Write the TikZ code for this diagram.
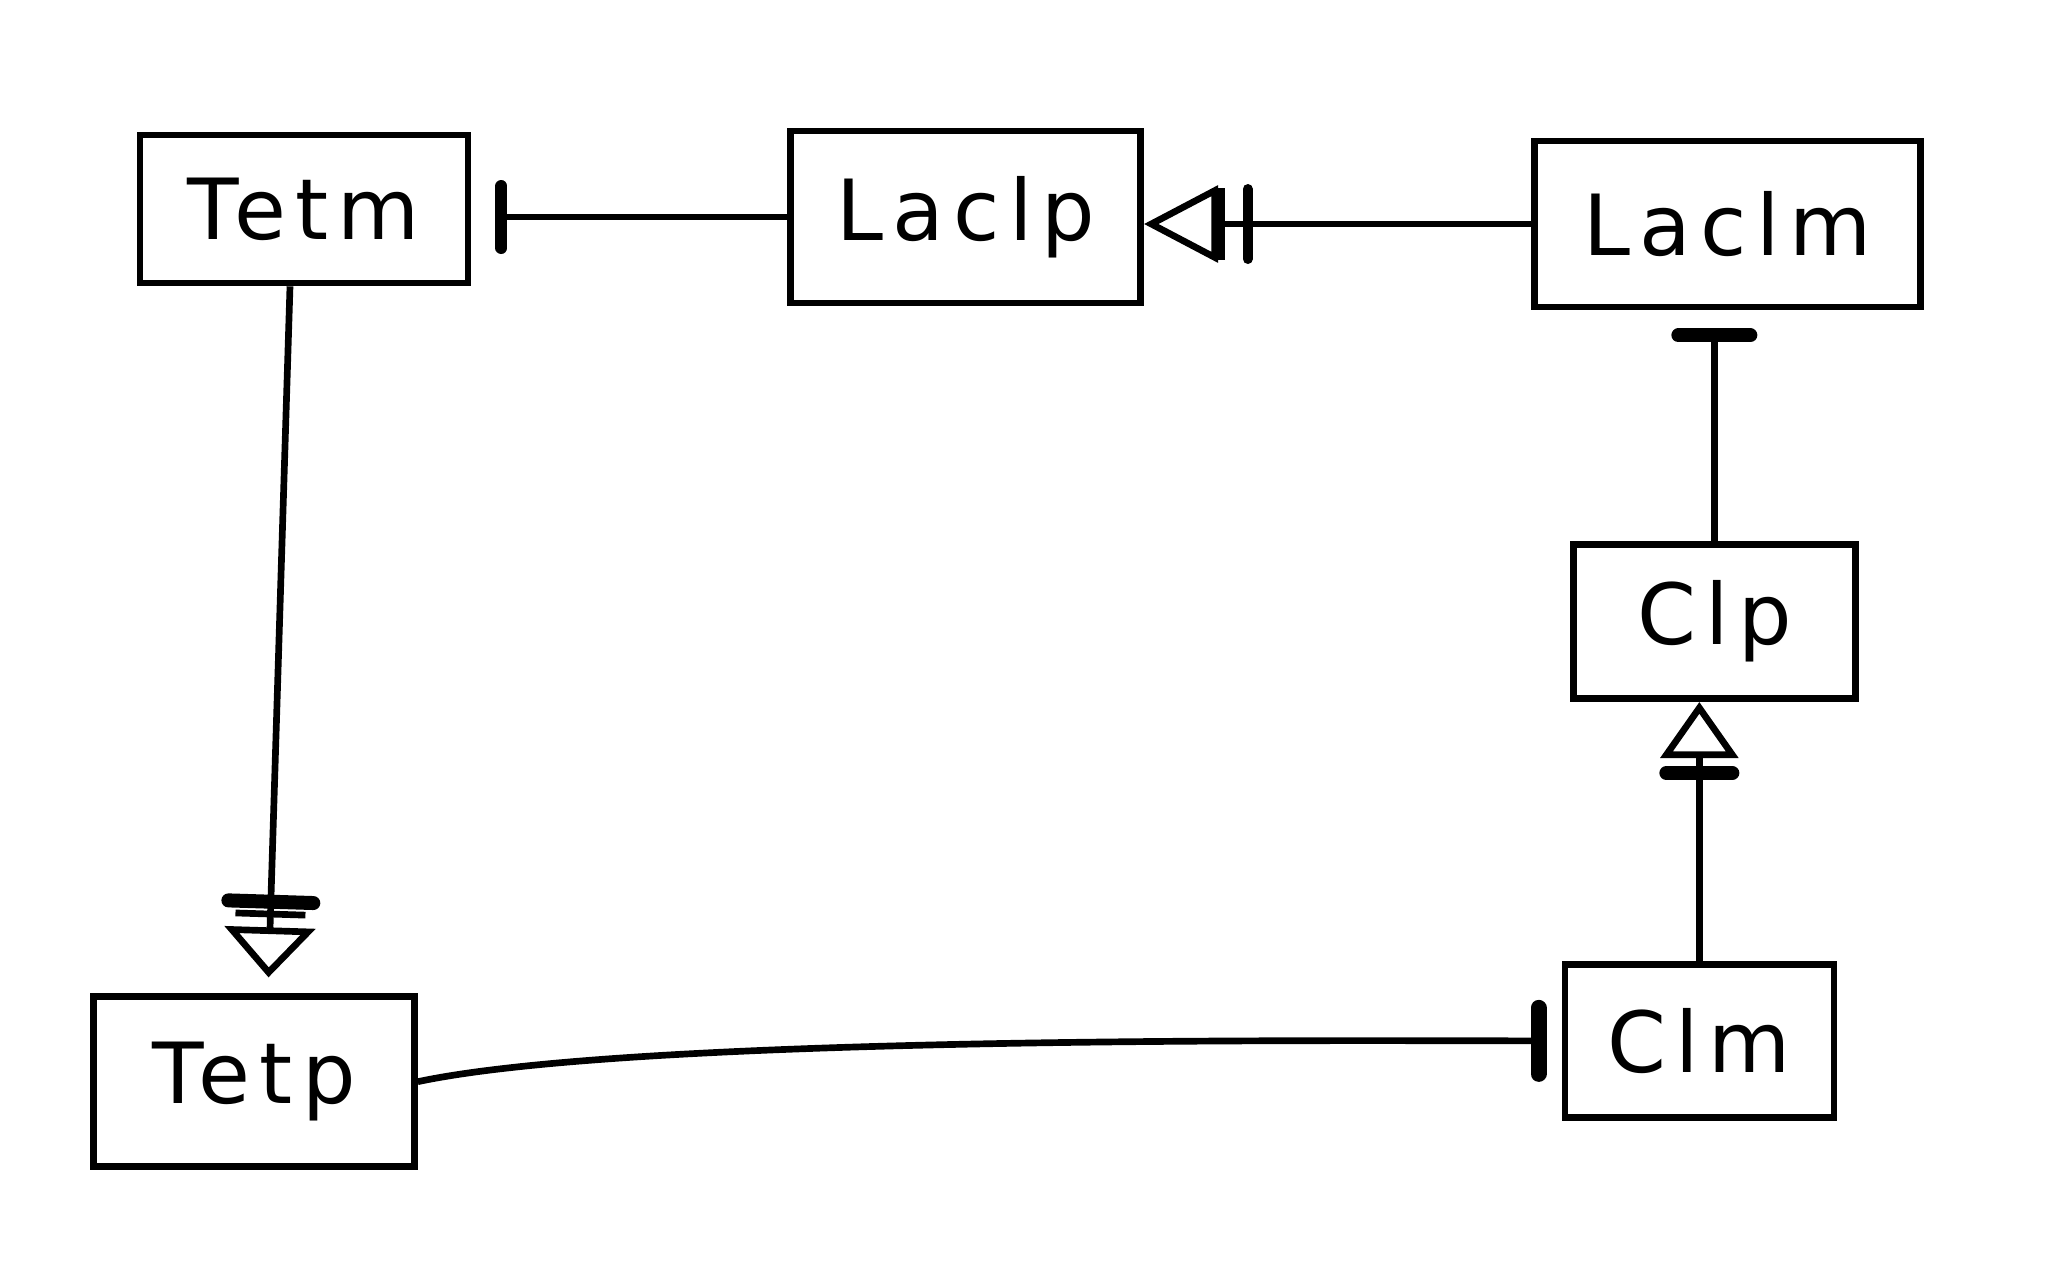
\documentclass[tikz,border=0pt]{standalone}
\usepackage{fontspec}
\newfontfamily\handfont[LetterSpace=11]{DejaVu Sans}
\usetikzlibrary{positioning,arrows.meta}

\begin{document}
\begin{tikzpicture}[box/.style={draw,line width=1.9pt,inner sep=0pt,font=\handfont\fontsize{24}{28}\selectfont},link/.style={line width=1.9pt}]
		\useasboundingbox (0,0) rectangle (20.48,-12.87);

		\node[box,minimum width=3.28cm,minimum height=1.48cm]											(tetm)	at (3.04,-2.09)	{Tetm};
		\node[box,minimum width=3.5cm,minimum height=1.72cm,node distance=3.16cm,right=of tetm,yshift=-0.08cm]		(laclp)		{Laclp};
		\node[box,minimum width=3.86cm,minimum height=1.66cm,node distance=3.87cm,right=of laclp,yshift=-0.07cm]	(laclm)		{Laclm};
		\node[box,minimum width=2.82cm,minimum height=1.54cm,node distance=2.31cm,below=of laclm,xshift=-0.13cm]	(clp)		{Clp};
		\node[box,minimum width=2.69cm,minimum height=1.53cm,node distance=2.59cm,below=of clp,xshift=-0.15cm]		(clm)		{Clm};
		\node[box,minimum width=3.21cm,minimum height=1.7cm,node distance=7.07cm,below=of tetm,xshift=-0.5cm]		(tetp)		{Tetp};

		\draw[link,-{Bar[width=0.62cm,line width=0.12cm,round]},shorten >=0.24cm] (laclp.west) -- (laclp.west -| tetm.east);
		\draw[link,-{Bar[width=0.7cm,line width=0.1cm,round,sep=0.18cm]Bar[width=0.72cm,line width=1.9pt,sep=0pt]Triangle[open,length=0.74cm,width=0.76cm,line width=1.9pt]}] (laclm.west) -- (laclm.west -| laclp.east);
		\draw[link,-{Bar[width=0.72cm,line width=0.14cm,round]},shorten >=0.18cm] (clp.north) -- (clp.north |- laclm.south);
		\draw[link,-{Bar[width=0.66cm,line width=0.14cm,round,sep=0.08cm]Triangle[open,length=0.56cm,width=0.77cm,line width=1.9pt]}] (clm.north) -- (clm.north |- clp.south);
		\draw[link,-{Bar[width=0.85cm,line width=0.14cm,round,sep=0.02cm]Bar[width=0.7cm,line width=1.9pt,sep=0.1cm]Triangle[open,length=0.5cm,width=0.9cm,line width=1.9pt]},shorten >=0.16cm] ([xshift=-0.14cm]tetm.south) -- ([xshift=0.14cm]tetp.north);
		\draw[link,-{Bar[width=0.66cm,line width=0.16cm,round]},shorten >=0.15cm] (tetp.east) to[out=12,in=180,looseness=0.5] (clm.west);
	\end{tikzpicture}
\end{document}
